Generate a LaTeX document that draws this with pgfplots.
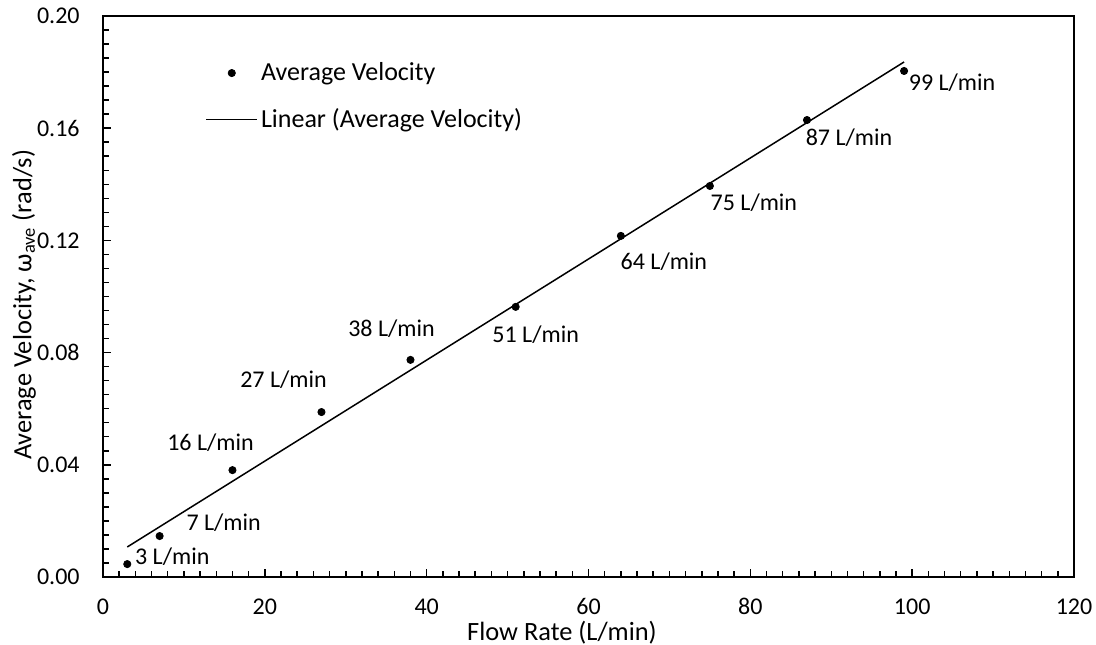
\documentclass[border=0pt]{standalone}
\usepackage{pgfplots}
\pgfplotsset{compat=1.18}
\usepackage{fontspec}
\setmainfont{Carlito}
\begin{document}
\begin{tikzpicture}
\begin{axis}[
  scale only axis,
  width=485.5pt, height=280.5pt,
  xmin=0, xmax=120, ymin=0, ymax=0.2,
  xtick={0,20,40,60,80,100,120},
  ytick={0,0.04,0.08,0.12,0.16,0.2},
  minor x tick num=9,
  minor y tick num=7,
  tick pos=left,
  tick align=inside,
  major tick length=4pt,
  minor tick length=3pt,
  axis line style={line width=0.75pt},
  every tick/.style={black, line width=0.75pt},
  font=\fontsize{12}{14}\selectfont,
  /pgf/number format/assume math mode=true,
  yticklabel style={/pgf/number format/fixed, /pgf/number format/fixed zerofill, /pgf/number format/precision=2, anchor=east, inner xsep=0pt, xshift=-11.5pt},
  xticklabel style={anchor=base, yshift=-18.75pt},
  scaled y ticks=false,
  xlabel={Flow Rate (L/min)},
  ylabel={Average Velocity, ω\textsubscript{ave} (rad/s)},
  xlabel style={at={(axis description cs:0.4727,-0.0998)}, anchor=center, font=\fontsize{13.2}{15}\selectfont},
  ylabel style={at={(axis description cs:-0.0814,0.485)}, anchor=center, font=\fontsize{13.2}{15}\selectfont},
  legend style={draw=none, fill=none, at={(axis description cs:0.099,0.932)}, anchor=north west, row sep=8.5pt, nodes={inner xsep=1.5pt}, font=\fontsize{13}{15}\selectfont},
  legend cell align=left,
  clip=false,
]
\addplot[only marks, mark=*, mark size=1.8pt, black,
  legend image code/.code={\fill[black] (12.75pt,0pt) circle (1.8pt);}]
  coordinates {(3,0.0046) (7,0.0146) (16,0.0381) (27,0.0588) (38,0.0774) (51,0.0963) (64,0.1216) (75,0.1394) (87,0.1629) (99,0.1804)};
\addlegendentry{Average Velocity}
\addplot[black, line width=0.75pt,
  legend image code/.code={\draw[black, line width=0.75pt] (0pt,0pt) -- (25.5pt,0pt);}]
  coordinates {(3,0.0107) (99,0.1836)};
\addlegendentry{Linear (Average Velocity)}
\node[xshift=22.5pt, yshift=3.5pt] at (axis cs:3,0.0046) {3 L/min};
\node[xshift=32pt, yshift=6.5pt] at (axis cs:7,0.0146) {7 L/min};
\node[xshift=-11pt, yshift=13.5pt] at (axis cs:16,0.0381) {16 L/min};
\node[xshift=-19pt, yshift=16pt] at (axis cs:27,0.0588) {27 L/min};
\node[xshift=-9.5pt, yshift=15.5pt] at (axis cs:38,0.0774) {38 L/min};
\node[xshift=10pt, yshift=-14pt] at (axis cs:51,0.0963) {51 L/min};
\node[xshift=21.5pt, yshift=-13pt] at (axis cs:64,0.1216) {64 L/min};
\node[xshift=22pt, yshift=-8.5pt] at (axis cs:75,0.1394) {75 L/min};
\node[xshift=21pt, yshift=-9pt] at (axis cs:87,0.1629) {87 L/min};
\node[xshift=24pt, yshift=-6pt] at (axis cs:99,0.1804) {99 L/min};
\coordinate (sw) at (rel axis cs:0,0);
\coordinate (ne) at (rel axis cs:1,1);
\end{axis}
\pgfresetboundingbox
\path (sw) +(-51.5pt,-34pt) coordinate (bl);
\path (ne) +(11pt,8pt) coordinate (tr);
\path[use as bounding box] (bl) rectangle (tr);
\end{tikzpicture}
\end{document}
